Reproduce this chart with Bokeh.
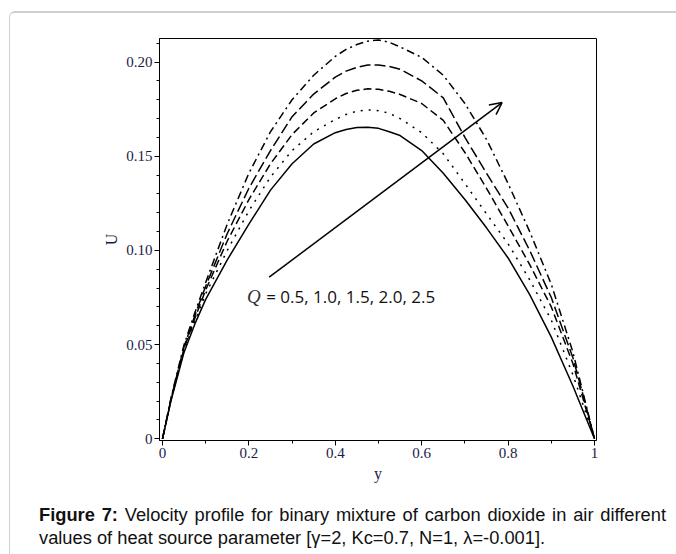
from bokeh.plotting import figure
from bokeh.models import (FixedTicker, CustomJSTickFormatter, Range1d, Arrow,
                          OpenHead, Label, Div)
from bokeh.layouts import column
from bokeh.embed import file_html
from bokeh.resources import INLINE

# ---- data ----
y_pos = [0.0, 0.02, 0.05, 0.075, 0.10, 0.15, 0.20, 0.25, 0.30, 0.35, 0.40, 0.425, 0.45,
         0.475, 0.50, 0.525, 0.55, 0.60, 0.65, 0.70, 0.75, 0.80, 0.85, 0.90, 0.95,
         0.975, 1.0]

U_Q05 = [0, 0.0205, 0.046, 0.061, 0.074, 0.095, 0.114, 0.132, 0.146, 0.1565, 0.1625,
         0.1642, 0.1652, 0.1654, 0.1648, 0.1630, 0.1610, 0.153, 0.141, 0.127, 0.112,
         0.096, 0.0765, 0.054, 0.028, 0.014, 0]
U_Q10 = [0, 0.021, 0.047, 0.0625, 0.077, 0.100, 0.121, 0.139, 0.153, 0.163, 0.1695,
         0.1722, 0.1739, 0.1746, 0.1742, 0.1728, 0.1700, 0.1625, 0.1513, 0.1355, 0.1194,
         0.1035, 0.0844, 0.063, 0.034, 0.017, 0]
U_Q15 = [0, 0.021, 0.048, 0.064, 0.079, 0.105, 0.127, 0.146, 0.1615, 0.173, 0.1805,
         0.1833, 0.1850, 0.1858, 0.1855, 0.1845, 0.1828, 0.178, 0.169, 0.152, 0.133,
         0.113, 0.0925, 0.070, 0.040, 0.020, 0]
U_Q20 = [0, 0.0215, 0.049, 0.0655, 0.081, 0.109, 0.133, 0.153, 0.171, 0.183, 0.192,
         0.1952, 0.1972, 0.1984, 0.1984, 0.1977, 0.1962, 0.190, 0.181, 0.160, 0.141,
         0.1225, 0.100, 0.075, 0.043, 0.022, 0]
U_Q25 = [0, 0.022, 0.050, 0.067, 0.083, 0.114, 0.141, 0.163, 0.180, 0.193, 0.203,
         0.2067, 0.2093, 0.2111, 0.2117, 0.2105, 0.208, 0.2025, 0.193, 0.178, 0.159,
         0.1355, 0.110, 0.082, 0.046, 0.023, 0]

series = [U_Q05, U_Q10, U_Q15, U_Q20, U_Q25]
Q_values = ["0.5", "1.0", "1.5", "2.0", "2.5"]

x_ticks = [0, 0.2, 0.4, 0.6, 0.8, 1.0]
x_minor = [0.1, 0.3, 0.5, 0.7, 0.9]
y_ticks = [0, 0.05, 0.10, 0.15, 0.20]
y_minor = [0.01, 0.02, 0.03, 0.04, 0.06, 0.07, 0.08, 0.09, 0.11, 0.12, 0.13, 0.14,
           0.16, 0.17, 0.18, 0.19, 0.21]

# ---- styles ----
dashes = ["solid", "2 6", "8 4", "11 4", "8 4 2 4"]
SERIF = "Liberation Serif"
TICK_COLOR = "#1b1b45"

p = figure(width=620, height=474, output_backend="svg", toolbar_location=None,
           x_range=Range1d(-0.0069, 1.0046), y_range=Range1d(-0.0009, 0.2125),
           min_border_left=149, min_border_right=34, min_border_top=25,
           min_border_bottom=47, background_fill_color="white",
           border_fill_color="white")
p.outline_line_color = "black"
p.outline_line_width = 1
p.xgrid.visible = False
p.ygrid.visible = False

for vals, dash in zip(series, dashes):
    p.line(y_pos, vals, line_color="black", line_width=1.5, line_dash=dash)

p.xaxis.ticker = FixedTicker(ticks=x_ticks, minor_ticks=x_minor)
p.yaxis.ticker = FixedTicker(ticks=y_ticks, minor_ticks=y_minor)
p.xaxis.formatter = CustomJSTickFormatter(code="""
    if (Math.abs(tick) < 1e-9) return '0';
    if (Math.abs(tick - 1) < 1e-9) return '1';
    return tick.toFixed(1);""")
p.yaxis.formatter = CustomJSTickFormatter(code="""
    if (Math.abs(tick) < 1e-9) return '0';
    return tick.toFixed(2);""")

for ax in (p.xaxis, p.yaxis):
    ax.axis_line_color = "black"
    ax.major_tick_line_color = "black"
    ax.minor_tick_line_color = "black"
    ax.major_tick_in = 0
    ax.major_tick_out = 5
    ax.minor_tick_in = 0
    ax.minor_tick_out = 3
    ax.major_label_text_font = SERIF
    ax.major_label_text_font_size = "15px"
    ax.major_label_text_color = TICK_COLOR
    ax.major_label_standoff = 2
    ax.axis_label_text_font = SERIF
    ax.axis_label_text_font_size = "16px"
    ax.axis_label_text_font_style = "normal"
    ax.axis_label_text_color = TICK_COLOR

p.xaxis.axis_label_standoff = 4
p.yaxis.axis_label_standoff = 3
p.xaxis.axis_label = "y"
p.yaxis.axis_label = "U"

# arrow annotation and Q label
p.add_layout(Arrow(end=OpenHead(size=12, line_width=1.5, line_color="black"),
                   x_start=0.247, y_start=0.0858, x_end=0.786, y_end=0.1785,
                   line_width=1.5, line_color="black"))
p.add_layout(Label(x=0.1955, y=0.0755, text="Q", text_font=SERIF,
                   text_font_style="italic", text_font_size="19px",
                   text_color="#333333", text_baseline="middle"))
p.add_layout(Label(x=0.240, y=0.0755, text="= " + ", ".join(Q_values),
                   text_font="Open Sans", text_font_size="17px",
                   text_color="#111111", text_baseline="middle"))

caption = Div(width=658, height=58, styles={"overflow": "visible"}, text="""
<div style="margin:11px 0 0 24px; width:627px; font-family:'Liberation Sans',Arial,sans-serif;
 font-size:18.3px; line-height:23px; color:#111111;">
<div style="white-space:nowrap; text-align:justify; text-align-last:justify;"><b>Figure 7:</b> Velocity profile for binary mixture of carbon dioxide in air different</div>
<div style="white-space:nowrap;">values of heat source parameter [&gamma;=2, Kc=0.7, N=1, &lambda;=-0.001].</div>
</div>""")

layout = column(p, caption, styles={"border-top": "2px solid #cfcfcf",
                                    "border-left": "1px solid #cfcfcf",
                                    "border-top-left-radius": "6px",
                                    "margin-top": "11px", "margin-left": "9px"})

open("out.html", "w").write(file_html(layout, INLINE))
